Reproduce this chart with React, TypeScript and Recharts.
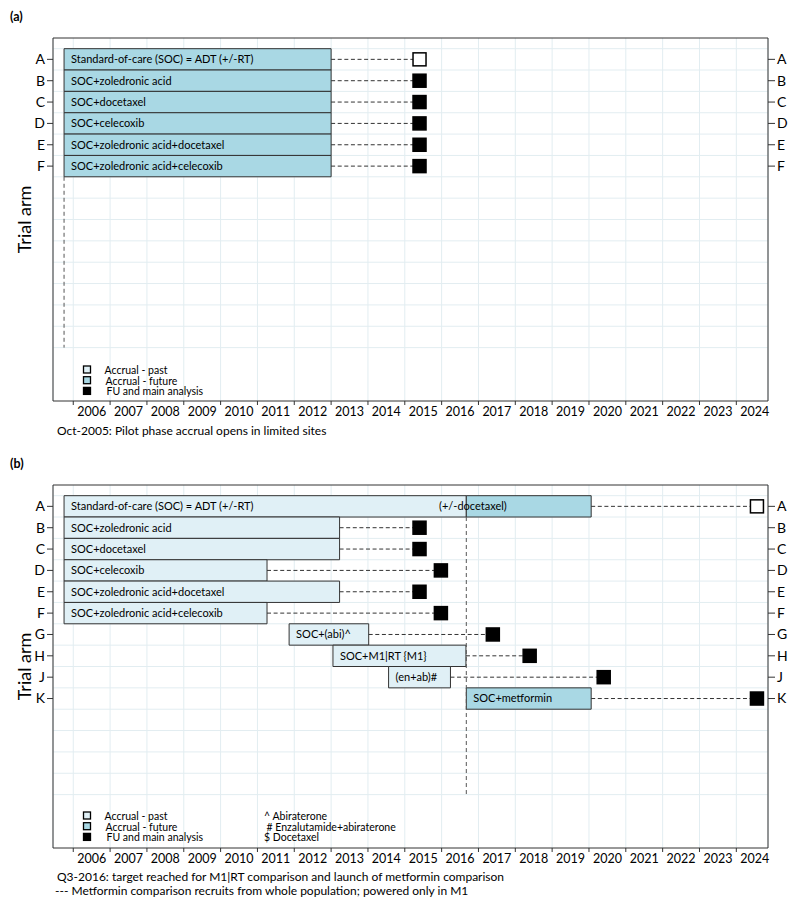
import React from 'react';
import {
  ComposedChart,
  XAxis,
  YAxis,
  CartesianGrid,
  ReferenceArea,
  ReferenceLine,
  ReferenceDot,
  Scatter,
} from 'recharts';

// time axis: tick at 1 January, label sits in the middle of the year
const YEARS = [2006, 2007, 2008, 2009, 2010, 2011, 2012, 2013, 2014, 2015, 2016, 2017, 2018, 2019, 2020, 2021, 2022, 2023, 2024];
const X_DOMAIN = [2005.45, 2024.86];
// rows: 0 = first arm at the top, empty rows below, legend under the last row edge
const Y_DOMAIN = [-1, 16];
const ROW_EDGES = [-0.5, 0.5, 1.5, 2.5, 3.5, 4.5, 5.5, 6.5, 7.5, 8.5, 9.5, 10.5, 11.5, 12.5, 13.5];

// panel (a)
const ARMS_A = ['A', 'B', 'C', 'D', 'E', 'F'];
const LABELS_A = [
  'Standard-of-care (SOC) = ADT (+/-RT)',
  'SOC+zoledronic acid',
  'SOC+docetaxel',
  'SOC+celecoxib',
  'SOC+zoledronic acid+docetaxel',
  'SOC+zoledronic acid+celecoxib',
];
const PAST_START_A = [null, null, null, null, null, null];
const PAST_END_A = [null, null, null, null, null, null];
const FUTURE_START_A = [2005.75, 2005.75, 2005.75, 2005.75, 2005.75, 2005.75];
const FUTURE_END_A = [2013.0, 2013.0, 2013.0, 2013.0, 2013.0, 2013.0];
const FU_A = [2015.4, 2015.4, 2015.4, 2015.4, 2015.4, 2015.4];
const FU_OPEN_A = [true, false, false, false, false, false];
const GUIDE_A = { year: 2005.75, from: 5.5, to: 13.5 };

// panel (b)
const ARMS_B = ['A', 'B', 'C', 'D', 'E', 'F', 'G', 'H', 'J', 'K'];
const PAST_LABELS_B = [
  'Standard-of-care (SOC) = ADT (+/-RT)',
  'SOC+zoledronic acid',
  'SOC+docetaxel',
  'SOC+celecoxib',
  'SOC+zoledronic acid+docetaxel',
  'SOC+zoledronic acid+celecoxib',
  'SOC+(abi)^',
  'SOC+M1|RT {M1}',
  '(en+ab)#',
  '',
];
const PAST_START_B = [2005.75, 2005.75, 2005.75, 2005.75, 2005.75, 2005.75, 2011.86, 2013.05, 2014.56, null];
const PAST_END_B = [2016.67, 2013.23, 2013.23, 2011.26, 2013.23, 2011.26, 2014.02, 2016.66, 2016.24, null];
const FUTURE_LABELS_B = ['', '', '', '', '', '', '', '', '', 'SOC+metformin'];
const FUTURE_START_B = [2016.67, null, null, null, null, null, null, null, null, 2016.67];
const FUTURE_END_B = [2020.06, null, null, null, null, null, null, null, null, 2020.06];
const FU_B = [2024.56, 2015.4, 2015.4, 2015.98, 2015.4, 2015.98, 2017.39, 2018.39, 2020.4, 2024.56];
const FU_OPEN_B = [true, false, false, false, false, false, false, false, false, false];
const GUIDE_B = { year: 2016.67, from: 0.5, to: 13.5 };
const NOTE_B = { row: 0, year: 2015.93, text: '(+/-docetaxel)' };

const PAST = '#e0f0f6';
const FUTURE = '#a9d8e4';
const GRID = '#e2edf1';
const INK = '#333';

const W = 800;
const H = 450;
const LEFT = 53;
const RIGHT = 32;
const PLOT_W = W - LEFT - RIGHT;
const HALF_YEAR = PLOT_W / (X_DOMAIN[1] - X_DOMAIN[0]) / 2;

function YearTick(props: any) {
  const { x, y, payload, shift } = props;
  return (
    <text x={x + HALF_YEAR} y={y + shift} textAnchor="middle" fontSize={12.5} fill="#000">
      {payload.value}
    </text>
  );
}

function FuSquare(props: any) {
  const { cx, cy, payload } = props;
  return (
    <rect
      x={cx - 6.5}
      y={cy - 6.5}
      width={13}
      height={13}
      fill={payload.open ? '#fff' : '#000'}
      stroke="#000"
      strokeWidth={1.5}
    />
  );
}

function NoteText(props: any) {
  const { viewBox, value } = props;
  return (
    <text x={viewBox.x} y={viewBox.y + 4} fontSize={11} fill="#000">
      {value}
    </text>
  );
}

type PanelProps = {
  arms: string[];
  pastStart: (number | null)[];
  pastEnd: (number | null)[];
  pastLabels: string[];
  futureStart: (number | null)[];
  futureEnd: (number | null)[];
  futureLabels: string[];
  fu: number[];
  fuOpen: boolean[];
  guide: { year: number; from: number; to: number };
  note?: { row: number; year: number; text: string };
};

function Panel(p: PanelProps) {
  const armTicks = p.arms.map((_, i) => i);
  const fuPoints = p.arms.map((arm, i) => ({ arm, x: p.fu[i], y: i, open: p.fuOpen[i] }));
  const barEnd = (i: number) => Math.max(p.pastEnd[i] ?? -Infinity, p.futureEnd[i] ?? -Infinity);
  const tickStyle = { fontSize: 14, fill: '#000' };

  return (
    <ComposedChart width={W} height={H} margin={{ top: 0, right: 0, bottom: 0, left: 0 }}>
      <XAxis
        type="number"
        dataKey="x"
        domain={X_DOMAIN}
        allowDataOverflow
        ticks={YEARS}
        interval={0}
        orientation="bottom"
        height={49}
        tickSize={4}
        stroke={INK}
        tick={(t: any) => <YearTick {...t} shift={9} />}
      />
      <XAxis
        xAxisId="top"
        type="number"
        domain={X_DOMAIN}
        allowDataOverflow
        ticks={YEARS}
        interval={0}
        orientation="top"
        height={38}
        tickSize={4}
        stroke={INK}
        tick={(t: any) => <YearTick {...t} shift={1} />}
      />
      <YAxis
        type="number"
        dataKey="y"
        domain={Y_DOMAIN}
        allowDataOverflow
        reversed
        ticks={armTicks}
        interval={0}
        width={LEFT}
        tickSize={6}
        stroke={INK}
        tick={tickStyle}
        tickFormatter={(v: number) => p.arms[v]}
        label={{ value: 'Trial arm', angle: -90, position: 'center', dx: -2, fontSize: 18, fill: '#000' }}
      />
      <YAxis
        yAxisId="right"
        orientation="right"
        type="number"
        domain={Y_DOMAIN}
        allowDataOverflow
        reversed
        ticks={armTicks}
        interval={0}
        width={RIGHT}
        tickSize={7}
        stroke={INK}
        tick={tickStyle}
        tickFormatter={(v: number) => p.arms[v]}
      />
      <CartesianGrid horizontal={false} stroke={GRID} />
      {ROW_EDGES.map((e) => (
        <ReferenceLine key={`edge-${e}`} y={e} stroke={GRID} zIndex={-100} />
      ))}
      <ReferenceLine
        segment={[
          { x: p.guide.year, y: p.guide.from },
          { x: p.guide.year, y: p.guide.to },
        ]}
        stroke="#555"
        strokeDasharray="4 3"
      />
      {p.arms.map((arm, i) => (
        <ReferenceLine
          key={`fu-line-${arm}`}
          segment={[
            { x: barEnd(i), y: i },
            { x: p.fu[i], y: i },
          ]}
          stroke={INK}
          strokeDasharray="4 2.6"
        />
      ))}
      {p.arms.map((arm, i) =>
        p.pastStart[i] == null ? null : (
          <ReferenceArea
            key={`past-${arm}`}
            x1={p.pastStart[i] as number}
            x2={p.pastEnd[i] as number}
            y1={i - 0.5}
            y2={i + 0.5}
            fill={PAST}
            fillOpacity={1}
            stroke={INK}
            strokeWidth={1}
            label={{ value: p.pastLabels[i], position: 'insideLeft', offset: 7, fontSize: 11, fill: '#000' }}
          />
        )
      )}
      {p.arms.map((arm, i) =>
        p.futureStart[i] == null ? null : (
          <ReferenceArea
            key={`future-${arm}`}
            x1={p.futureStart[i] as number}
            x2={p.futureEnd[i] as number}
            y1={i - 0.5}
            y2={i + 0.5}
            fill={FUTURE}
            fillOpacity={1}
            stroke={INK}
            strokeWidth={1}
            label={{ value: p.futureLabels[i], position: 'insideLeft', offset: 7, fontSize: 11, fill: '#000' }}
          />
        )
      )}
      {p.note && (
        <ReferenceDot
          x={p.note.year}
          y={p.note.row}
          r={0}
          fill="none"
          stroke="none"
          label={<NoteText value={p.note.text} />}
        />
      )}
      <Scatter data={fuPoints} shape={FuSquare} isAnimationActive={false} />
    </ComposedChart>
  );
}

function LegendBlock({ top, notes }: { top: number; notes: boolean }) {
  return (
    <g fontSize={10.5} fill="#000">
      <rect x={83.5} y={top} width={7} height={7} fill={PAST} stroke="#000" strokeWidth={1.3} />
      <rect x={83.5} y={top + 10.7} width={7} height={7} fill={FUTURE} stroke="#000" strokeWidth={1.3} />
      <rect x={83.5} y={top + 21.4} width={7} height={7} fill="#000" stroke="#000" strokeWidth={1.3} />
      <text x={104.5} y={top + 8}>Accrual - past</text>
      <text x={105.5} y={top + 18.7}>Accrual - future</text>
      <text x={106.5} y={top + 29.4}>FU and main analysis</text>
      {notes && (
        <>
          <text x={264} y={top + 8}>^ Abiraterone</text>
          <text x={266.5} y={top + 18.7}># Enzalutamide+abiraterone</text>
          <text x={264} y={top + 29.4}>$ Docetaxel</text>
        </>
      )}
    </g>
  );
}

export default function App() {
  return (
    <div style={{ position: 'absolute', left: 0, top: 0, width: 800, height: 907, fontFamily: 'Lato, sans-serif', background: '#fff' }}>
      <div style={{ position: 'absolute', left: 0, top: 0 }}>
        <Panel
          arms={ARMS_A}
          pastStart={PAST_START_A}
          pastEnd={PAST_END_A}
          pastLabels={LABELS_A}
          futureStart={FUTURE_START_A}
          futureEnd={FUTURE_END_A}
          futureLabels={LABELS_A}
          fu={FU_A}
          fuOpen={FU_OPEN_A}
          guide={GUIDE_A}
        />
      </div>
      <div style={{ position: 'absolute', left: 0, top: 447 }}>
        <Panel
          arms={ARMS_B}
          pastStart={PAST_START_B}
          pastEnd={PAST_END_B}
          pastLabels={PAST_LABELS_B}
          futureStart={FUTURE_START_B}
          futureEnd={FUTURE_END_B}
          futureLabels={FUTURE_LABELS_B}
          fu={FU_B}
          fuOpen={FU_OPEN_B}
          guide={GUIDE_B}
          note={NOTE_B}
        />
      </div>
      <svg width={800} height={907} style={{ position: 'absolute', left: 0, top: 0, pointerEvents: 'none' }}>
        <text x={10} y={20.5} fontSize={12.5} fontWeight="bold">(a)</text>
        <text x={10} y={467.5} fontSize={12.5} fontWeight="bold">(b)</text>
        <LegendBlock top={366} notes={false} />
        <LegendBlock top={812} notes={true} />
        <g fontSize={12} fill="#000">
          <text x={57} y={435}>Oct-2005: Pilot phase accrual opens in limited sites</text>
          <text x={57} y={881}>Q3-2016: target reached for M1|RT comparison and launch of metformin comparison</text>
          <text x={55} y={895}>--- Metformin comparison recruits from whole population; powered only in M1</text>
        </g>
      </svg>
    </div>
  );
}
